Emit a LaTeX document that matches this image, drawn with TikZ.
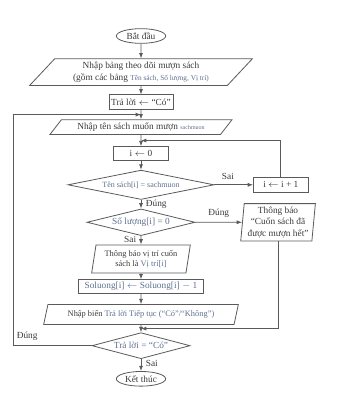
\documentclass[tikz,border=0pt]{standalone}
\usepackage{fontspec}
\setmainfont{Liberation Serif}
\usepackage{xcolor}
\definecolor{ink}{HTML}{3A3A3A}
\definecolor{slate}{HTML}{5E6F8E}
\definecolor{linegray}{HTML}{5A5A5A}
\usepackage{tikz}
\usetikzlibrary{shapes.geometric,arrows.meta,positioning,calc}

\newcommand{\vn}[1]{{\color{slate}#1}}

\begin{document}
\begin{tikzpicture}[
  x=0.75pt,y=-0.75pt,
  every node/.style={text=ink,font=\fontsize{7}{8.5}\selectfont},
  terminal/.style={ellipse,draw=linegray,line width=0.6pt,
                   minimum width=37pt,minimum height=11pt,inner sep=0.5pt},
  process/.style={rectangle,draw=linegray,line width=0.6pt,inner sep=1pt,align=center},
  decision/.style={diamond,draw=linegray,line width=0.6pt,inner sep=0pt,
                   aspect=5,align=center},
  io/.style={trapezium,trapezium left angle=#1,trapezium right angle={180-#1},
             trapezium stretches body,
             draw=linegray,line width=0.6pt,inner sep=1pt,align=center},
  io/.default=70,
  arrow/.style={-{Latex[length=4pt,width=3pt]},line width=0.6pt,color=linegray},
]
  \useasboundingbox (0,0) rectangle (355,406);

  \node[terminal] (start) at (141,36) {Bắt đầu};
  \node[io=42,minimum width=167pt,minimum height=20pt,below=11pt of start] (tables)
    {Nhập bảng theo dõi mượn sách\\(gồm các bảng \vn{\fontsize{5.5}{6}\selectfont Tên sách, Số lượng, Vị trí)}};
  \node[process,minimum width=48pt,minimum height=11pt,below=6.4pt of tables] (init)
    {Trả lời $\leftarrow$ “Có”};
  \node[io=45,minimum width=136.5pt,minimum height=11pt,below=7.1pt of init] (title)
    {Nhập tên sách muốn mượn \vn{\fontsize{4.5}{5}\selectfont sachmuon}};
  \node[process,minimum width=41pt,minimum height=10pt,below=8.6pt of title] (zero)
    {i $\leftarrow$ 0};
  \node[decision,minimum width=109.5pt,minimum height=22pt,below=7pt of zero] (found)
    {\vn{\fontsize{6}{7}\selectfont Tên sách[i] = sachmuon}};
  \node[process,minimum width=41pt,minimum height=11pt,right=29pt of found] (next)
    {i $\leftarrow$ i + 1};
  \node[decision,minimum width=81pt,minimum height=20pt,below=6.5pt of found] (empty)
    {\vn{Số lượng[i] = 0}};
  \node[io=84,minimum width=56pt,minimum height=28pt,right=35pt of empty] (soldout)
    {Thông báo\\“Cuốn sách đã\\được mượn hết”};
  \node[io=78,minimum width=74pt,minimum height=21pt,below=6.4pt of empty,
        font=\fontsize{6.3}{7.8}\selectfont] (where)
    {Thông báo vị trí cuốn\\sách là \vn{Vị trí[i]}};
  \node[process,minimum width=94pt,minimum height=10.5pt,below=4.5pt of where] (take)
    {\vn{Soluong[i] $\leftarrow$ Soluong[i] $-$ 1}};
  \node[io=68,minimum width=146pt,minimum height=15pt,below=7.5pt of take,
        font=\fontsize{6.3}{7.5}\selectfont] (again)
    {Nhập biến \vn{Trả lời Tiếp tục (“Có”/“Không”)}};
  \node[decision,minimum width=73.5pt,minimum height=19.5pt,below=5.5pt of again] (more)
    {\vn{Trả lời = “Có”}};
  \node[terminal,below=9pt of more] (stop) {Kết thúc};

  % junctions of the loops
  \coordinate (jtop) at ($(init.south)!0.5!(title.north)$);
  \coordinate (jmid) at ($(title.south)!0.5!(zero.north)$);
  \coordinate (jbot) at ($(again.south)!0.5!(more.north)$);
  \coordinate (edge) at (13,0);

  \draw[arrow] (start) -- (tables);
  \draw[arrow] (tables) -- (init);
  \draw[arrow] (init) -- (title);
  \draw[arrow] (title) -- (zero);
  \draw[arrow] (zero) -- (found);
  \draw[arrow] (found) -- node[right,pos=0.45] {Đúng} (empty);
  \draw[arrow] (found) -- node[above,pos=0.35] {Sai} (next);
  \draw[arrow] (next) |- (jmid);
  \draw[arrow] (empty) -- node[above] {Đúng} (soldout);
  \draw[arrow] (empty) -- node[left,pos=0.4] {Sai} (where);
  \draw[arrow] (where) -- (take);
  \draw[arrow] (take) -- (again);
  \draw[arrow] (soldout) |- (jbot);
  \draw[arrow] (again) -- (more);
  \draw[arrow] (more) -- node[right,pos=0.4] {Sai} (stop);
  \draw[arrow] (more.west) -- node[above,pos=0.82] {Đúng} (more.west -| edge) |- (jtop);
\end{tikzpicture}
\end{document}
